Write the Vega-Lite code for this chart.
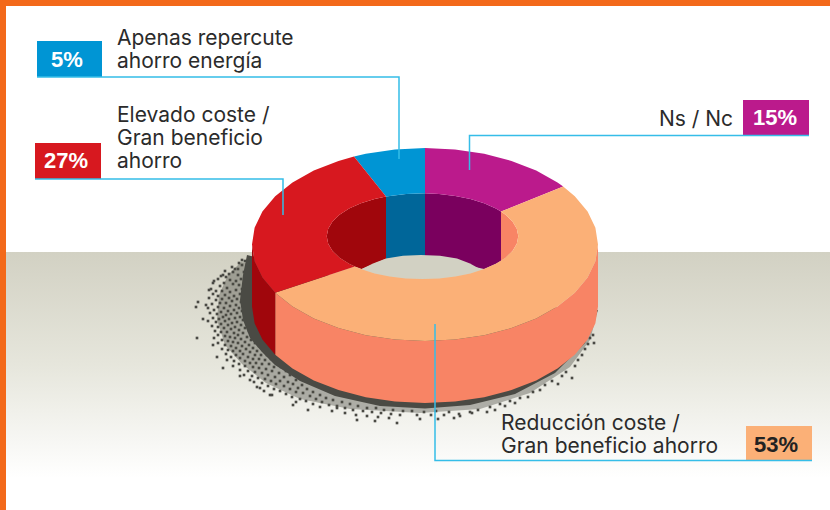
{"$schema":"https://vega.github.io/schema/vega-lite/v6.json","width":830,"height":510,"padding":0,"autosize":{"type":"fit","contains":"padding"},"background":"#ffffff","config":{"view":{"stroke":null}},
"datasets":{
"band":[{"x":6,"x2":830,"y":252,"y2":478}],
"border":[{"x":0,"x2":830,"y":0,"y2":6},{"x":0,"x2":6,"y":0,"y2":510}],
"haze":[{"x":241,"y":262},{"x":228,"y":275},{"x":219,"y":295},{"x":217,"y":320},{"x":225,"y":345},{"x":242,"y":364},{"x":266,"y":383},{"x":300,"y":399},{"x":350,"y":409},{"x":420,"y":413},{"x":480,"y":409},{"x":530,"y":393},{"x":570,"y":367},{"x":590,"y":340},{"x":598,"y":310},{"x":425,"y":300}],
"shadow":[{"p":"shadow","x":247,"y":255},{"p":"shadow","x":243,"y":275},{"p":"shadow","x":240,"y":300},{"p":"shadow","x":243,"y":320},{"p":"shadow","x":250,"y":338},{"p":"shadow","x":262,"y":352},{"p":"shadow","x":275,"y":365},{"p":"shadow","x":300,"y":381},{"p":"shadow","x":335,"y":396},{"p":"shadow","x":380,"y":406},{"p":"shadow","x":425,"y":408.5},{"p":"shadow","x":470,"y":405},{"p":"shadow","x":515,"y":394},{"p":"shadow","x":555,"y":373},{"p":"shadow","x":585,"y":343},{"p":"shadow","x":598,"y":310},{"p":"shadow","x":425,"y":300}],
"specks":[{"x":196,"y":307},{"x":198,"y":302},{"x":203,"y":319},{"x":197,"y":338},{"x":213,"y":283},{"x":223,"y":275},{"x":242,"y":260},{"x":238,"y":269},{"x":209,"y":290},{"x":208,"y":308},{"x":213,"y":345},{"x":217,"y":357},{"x":223,"y":368},{"x":240,"y":376},{"x":250,"y":380},{"x":260,"y":388},{"x":270,"y":395},{"x":293,"y":405},{"x":308,"y":410},{"x":337,"y":408},{"x":357,"y":420},{"x":397,"y":423},
{"x":239,"y":263},{"x":245,"y":261},{"x":232,"y":267},{"x":242,"y":265},{"x":247,"y":268},{"x":225,"y":271},{"x":235,"y":269},{"x":244,"y":272},{"x":229,"y":274},{"x":221,"y":276},{"x":238,"y":275},{"x":233,"y":272},{"x":218,"y":279},{"x":226,"y":277},{"x":241,"y":279},{"x":236,"y":281},{"x":230,"y":280},{"x":224,"y":283},{"x":214,"y":281},{"x":245,"y":283},{"x":239,"y":285},{"x":220,"y":286},{"x":233,"y":284},{"x":227,"y":288},{"x":211,"y":289},{"x":216,"y":291},{"x":242,"y":289},{"x":236,"y":290},{"x":230,"y":292},{"x":222,"y":291},{"x":246,"y":292},{"x":225,"y":295},{"x":240,"y":294},{"x":234,"y":296},{"x":218,"y":296},{"x":213,"y":294},{"x":229,"y":298},{"x":243,"y":297},{"x":222,"y":299},{"x":237,"y":299},{"x":209,"y":298},{"x":216,"y":300},{"x":232,"y":301},{"x":226,"y":303},{"x":241,"y":302},{"x":220,"y":303},{"x":212,"y":304},{"x":236,"y":305},{"x":230,"y":306},{"x":218,"y":307},{"x":224,"y":308},{"x":244,"y":306},{"x":239,"y":308},{"x":206,"y":305},{"x":214,"y":310},{"x":228,"y":311},{"x":234,"y":310},{"x":221,"y":312},{"x":242,"y":311},{"x":237,"y":313},{"x":217,"y":314},{"x":226,"y":315},{"x":231,"y":314},{"x":210,"y":313},{"x":245,"y":315},{"x":223,"y":317},{"x":240,"y":317},{"x":235,"y":318},{"x":213,"y":318},{"x":219,"y":319},{"x":229,"y":319},{"x":208,"y":321},{"x":243,"y":320},{"x":225,"y":321},{"x":216,"y":322},{"x":237,"y":322},{"x":232,"y":323},{"x":221,"y":324},{"x":247,"y":324},{"x":241,"y":325},{"x":228,"y":325},{"x":212,"y":326},{"x":218,"y":327},{"x":235,"y":327},{"x":224,"y":328},{"x":245,"y":328},{"x":231,"y":329},{"x":239,"y":330},{"x":215,"y":331},{"x":221,"y":332},{"x":227,"y":332},{"x":249,"y":331},{"x":234,"y":333},{"x":243,"y":333},{"x":238,"y":335},{"x":218,"y":335},{"x":225,"y":336},{"x":230,"y":337},{"x":252,"y":335},{"x":247,"y":337},{"x":214,"y":338},{"x":235,"y":338},{"x":222,"y":340},{"x":241,"y":339},{"x":228,"y":341},{"x":251,"y":340},{"x":233,"y":342},{"x":245,"y":342},{"x":238,"y":343},{"x":218,"y":343},{"x":255,"y":343},{"x":225,"y":345},{"x":249,"y":345},{"x":231,"y":346},{"x":242,"y":346},{"x":236,"y":348},{"x":259,"y":346},{"x":253,"y":348},{"x":222,"y":349},{"x":228,"y":350},{"x":246,"y":349},{"x":233,"y":351},{"x":240,"y":351},{"x":257,"y":351},{"x":263,"y":350},{"x":250,"y":352},{"x":226,"y":354},{"x":236,"y":355},{"x":243,"y":354},{"x":255,"y":355},{"x":231,"y":357},{"x":261,"y":355},{"x":248,"y":357},{"x":267,"y":355},{"x":240,"y":358},{"x":253,"y":359},{"x":227,"y":360},{"x":259,"y":359},{"x":234,"y":361},{"x":245,"y":361},{"x":265,"y":360},{"x":271,"y":359},{"x":250,"y":363},{"x":239,"y":364},{"x":256,"y":363},{"x":262,"y":364},{"x":277,"y":363},{"x":269,"y":364},{"x":233,"y":366},{"x":245,"y":366},{"x":253,"y":367},{"x":274,"y":367},{"x":259,"y":368},{"x":281,"y":367},{"x":266,"y":369},{"x":240,"y":370},{"x":248,"y":371},{"x":255,"y":372},{"x":272,"y":371},{"x":286,"y":371},{"x":262,"y":373},{"x":279,"y":373},{"x":244,"y":375},{"x":268,"y":375},{"x":252,"y":376},{"x":275,"y":377},{"x":258,"y":378},{"x":290,"y":375},{"x":284,"y":377},{"x":265,"y":379},{"x":296,"y":380},{"x":271,"y":381},{"x":254,"y":382},{"x":280,"y":381},{"x":288,"y":382},{"x":262,"y":383},{"x":276,"y":384},{"x":293,"y":384},{"x":302,"y":385},{"x":268,"y":386},{"x":284,"y":386},{"x":257,"y":387},{"x":298,"y":388},{"x":274,"y":389},{"x":290,"y":389},{"x":307,"y":389},{"x":280,"y":391},{"x":264,"y":391},{"x":313,"y":392},{"x":296,"y":392},{"x":303,"y":393},{"x":286,"y":394},{"x":272,"y":395},{"x":320,"y":395},{"x":310,"y":396},{"x":292,"y":397},{"x":326,"y":398},{"x":300,"y":399},{"x":316,"y":399},{"x":333,"y":400},{"x":306,"y":401},{"x":322,"y":402},{"x":342,"y":402},{"x":296,"y":402},{"x":313,"y":404},{"x":350,"y":404},{"x":329,"y":405},{"x":337,"y":406},{"x":358,"y":406},{"x":320,"y":407},{"x":345,"y":408},{"x":367,"y":408},{"x":376,"y":408},{"x":353,"y":410},{"x":332,"y":411},{"x":363,"y":411},{"x":384,"y":410},{"x":393,"y":410},{"x":372,"y":412},{"x":403,"y":411},{"x":412,"y":411},{"x":345,"y":413},{"x":381,"y":413},{"x":356,"y":415},{"x":391,"y":414},{"x":424,"y":412},{"x":436,"y":411},{"x":400,"y":415},{"x":367,"y":416},{"x":449,"y":412},{"x":417,"y":415},{"x":378,"y":417},{"x":431,"y":415},{"x":444,"y":415},{"x":459,"y":414},{"x":389,"y":418},{"x":472,"y":413},{"x":420,"y":419},{"x":438,"y":419},{"x":454,"y":418},{"x":375,"y":421},
{"x":478,"y":410},{"x":490,"y":407},{"x":500,"y":404},{"x":487,"y":412},{"x":510,"y":401},{"x":520,"y":398},{"x":528,"y":397},{"x":515,"y":403},{"x":533,"y":392},{"x":540,"y":390},{"x":545,"y":385},{"x":552,"y":381},{"x":558,"y":384},{"x":562,"y":376},{"x":566,"y":372},{"x":572,"y":378},{"x":575,"y":366},{"x":578,"y":360},{"x":582,"y":355},{"x":585,"y":349},{"x":588,"y":344},{"x":590,"y":338},{"x":593,"y":335},{"x":594,"y":343},{"x":470,"y":412},{"x":460,"y":416},{"x":495,"y":410},{"x":505,"y":406}],
"lower":[
{"p":"orange side","x":598,"y":244.5},{"p":"orange side","x":595.4,"y":261.3},{"p":"orange side","x":587.6,"y":277.5},{"p":"orange side","x":574.8,"y":292.75},{"p":"orange side","x":557.5,"y":306.5},{"p":"orange side","x":536.2,"y":318.4},{"p":"orange side","x":511.5,"y":328.1},{"p":"orange side","x":484.2,"y":335.2},{"p":"orange side","x":455,"y":339.5},{"p":"orange side","x":425,"y":341},{"p":"orange side","x":395,"y":339.5},{"p":"orange side","x":365.8,"y":335.2},{"p":"orange side","x":338.5,"y":328.1},{"p":"orange side","x":313.8,"y":318.4},{"p":"orange side","x":292.5,"y":306.5},{"p":"orange side","x":275.2,"y":292.75},{"p":"orange side","x":275.2,"y":354.75},{"p":"orange side","x":292.5,"y":368.5},{"p":"orange side","x":313.8,"y":380.4},{"p":"orange side","x":338.5,"y":390.1},{"p":"orange side","x":365.8,"y":397.2},{"p":"orange side","x":395,"y":401.5},{"p":"orange side","x":425,"y":403},{"p":"orange side","x":455,"y":401.5},{"p":"orange side","x":484.2,"y":397.2},{"p":"orange side","x":511.5,"y":390.1},{"p":"orange side","x":536.2,"y":380.4},{"p":"orange side","x":557.5,"y":368.5},{"p":"orange side","x":574.8,"y":354.75},{"p":"orange side","x":587.6,"y":339.5},{"p":"orange side","x":595.4,"y":323.3},{"p":"orange side","x":598,"y":306.5},
{"p":"red side","x":275.2,"y":292.75},{"p":"red side","x":262.4,"y":277.5},{"p":"red side","x":254.6,"y":261.3},{"p":"red side","x":252,"y":244.5},{"p":"red side","x":252,"y":306.5},{"p":"red side","x":254.6,"y":323.3},{"p":"red side","x":262.4,"y":339.5},{"p":"red side","x":275.2,"y":354.75},
{"p":"red wall","x":354.8,"y":266.5},{"p":"red wall","x":349.1,"y":263.8},{"p":"red wall","x":339.5,"y":257.65},{"p":"red wall","x":332.5,"y":250.9},{"p":"red wall","x":328.2,"y":243.65},{"p":"red wall","x":326.7,"y":236.2},{"p":"red wall","x":328.2,"y":228.75},{"p":"red wall","x":332.5,"y":221.5},{"p":"red wall","x":339.5,"y":214.75},{"p":"red wall","x":349.1,"y":208.6},{"p":"red wall","x":360.9,"y":203.3},{"p":"red wall","x":374.6,"y":199},{"p":"red wall","x":386,"y":196.5},{"p":"red wall","x":386,"y":258.8},{"p":"red wall","x":361.7,"y":269},
{"p":"blue wall","x":386,"y":196.5},{"p":"blue wall","x":406,"y":194},{"p":"blue wall","x":425,"y":193.3},{"p":"blue wall","x":425,"y":256},{"p":"blue wall","x":386,"y":259},
{"p":"purple wall","x":425,"y":193.3},{"p":"purple wall","x":439.1,"y":194},{"p":"purple wall","x":455.3,"y":195.9},{"p":"purple wall","x":470.4,"y":199},{"p":"purple wall","x":484.1,"y":203.3},{"p":"purple wall","x":495.9,"y":208.6},{"p":"purple wall","x":501,"y":211.6},{"p":"purple wall","x":501,"y":260.8},{"p":"purple wall","x":495.9,"y":263.8},{"p":"purple wall","x":484.1,"y":269.1},{"p":"purple wall","x":425,"y":256},
{"p":"orange wall","x":501,"y":211.6},{"p":"orange wall","x":505.5,"y":214.75},{"p":"orange wall","x":512.5,"y":221.5},{"p":"orange wall","x":516.8,"y":228.75},{"p":"orange wall","x":518.3,"y":236.2},{"p":"orange wall","x":516.8,"y":243.65},{"p":"orange wall","x":512.5,"y":250.9},{"p":"orange wall","x":505.5,"y":257.65},{"p":"orange wall","x":501,"y":260.8}],
"upper":[
{"p":"floor","x":361.7,"y":269},{"p":"floor","x":373,"y":263.5},{"p":"floor","x":386,"y":258.6},{"p":"floor","x":403,"y":255.8},{"p":"floor","x":421,"y":255},{"p":"floor","x":440,"y":255.8},{"p":"floor","x":457,"y":258.6},{"p":"floor","x":470,"y":263.5},{"p":"floor","x":481.7,"y":270},{"p":"floor","x":470.4,"y":273.4},{"p":"floor","x":455.3,"y":276.5},{"p":"floor","x":439.1,"y":278.4},{"p":"floor","x":422.5,"y":279.1},{"p":"floor","x":405.9,"y":278.4},{"p":"floor","x":389.7,"y":276.5},{"p":"floor","x":374.6,"y":273.4},
{"p":"blue top","x":354,"y":156.5},{"p":"blue top","x":365.8,"y":153.8},{"p":"blue top","x":395,"y":149.5},{"p":"blue top","x":425,"y":148},{"p":"blue top","x":425,"y":193.3},{"p":"blue top","x":406,"y":194},{"p":"blue top","x":386,"y":196.5},
{"p":"purple top","x":425,"y":148},{"p":"purple top","x":455,"y":149.5},{"p":"purple top","x":484.2,"y":153.8},{"p":"purple top","x":511.5,"y":160.9},{"p":"purple top","x":536.2,"y":170.6},{"p":"purple top","x":557.5,"y":182.5},{"p":"purple top","x":563.2,"y":186.5},{"p":"purple top","x":501,"y":211.6},{"p":"purple top","x":495.9,"y":208.6},{"p":"purple top","x":484.1,"y":203.3},{"p":"purple top","x":470.4,"y":199},{"p":"purple top","x":455.3,"y":195.9},{"p":"purple top","x":439.1,"y":194},{"p":"purple top","x":425,"y":193.3},
{"p":"orange top","x":563.2,"y":186.5},{"p":"orange top","x":574.8,"y":196.25},{"p":"orange top","x":587.6,"y":211.5},{"p":"orange top","x":595.4,"y":227.7},{"p":"orange top","x":598,"y":244.5},{"p":"orange top","x":595.4,"y":261.3},{"p":"orange top","x":587.6,"y":277.5},{"p":"orange top","x":574.8,"y":292.75},{"p":"orange top","x":557.5,"y":306.5},{"p":"orange top","x":536.2,"y":318.4},{"p":"orange top","x":511.5,"y":328.1},{"p":"orange top","x":484.2,"y":335.2},{"p":"orange top","x":455,"y":339.5},{"p":"orange top","x":425,"y":341},{"p":"orange top","x":395,"y":339.5},{"p":"orange top","x":365.8,"y":335.2},{"p":"orange top","x":338.5,"y":328.1},{"p":"orange top","x":313.8,"y":318.4},{"p":"orange top","x":292.5,"y":306.5},{"p":"orange top","x":275.2,"y":292.75},{"p":"orange top","x":354.8,"y":266.5},{"p":"orange top","x":360.9,"y":269.1},{"p":"orange top","x":374.6,"y":273.4},{"p":"orange top","x":389.7,"y":276.5},{"p":"orange top","x":405.9,"y":278.4},{"p":"orange top","x":422.5,"y":279.1},{"p":"orange top","x":439.1,"y":278.4},{"p":"orange top","x":455.3,"y":276.5},{"p":"orange top","x":470.4,"y":273.4},{"p":"orange top","x":484.1,"y":269.1},{"p":"orange top","x":495.9,"y":263.8},{"p":"orange top","x":505.5,"y":257.65},{"p":"orange top","x":512.5,"y":250.9},{"p":"orange top","x":516.8,"y":243.65},{"p":"orange top","x":518.3,"y":236.2},{"p":"orange top","x":516.8,"y":228.75},{"p":"orange top","x":512.5,"y":221.5},{"p":"orange top","x":505.5,"y":214.75},{"p":"orange top","x":501,"y":211.6},
{"p":"red top","x":275.2,"y":292.75},{"p":"red top","x":262.4,"y":277.5},{"p":"red top","x":254.6,"y":261.3},{"p":"red top","x":252,"y":244.5},{"p":"red top","x":254.6,"y":227.7},{"p":"red top","x":262.4,"y":211.5},{"p":"red top","x":275.2,"y":196.25},{"p":"red top","x":292.5,"y":182.5},{"p":"red top","x":313.8,"y":170.6},{"p":"red top","x":338.5,"y":160.9},{"p":"red top","x":354,"y":156.5},{"p":"red top","x":386,"y":196.5},{"p":"red top","x":374.6,"y":199},{"p":"red top","x":360.9,"y":203.3},{"p":"red top","x":349.1,"y":208.6},{"p":"red top","x":339.5,"y":214.75},{"p":"red top","x":332.5,"y":221.5},{"p":"red top","x":328.2,"y":228.75},{"p":"red top","x":326.7,"y":236.2},{"p":"red top","x":328.2,"y":243.65},{"p":"red top","x":332.5,"y":250.9},{"p":"red top","x":339.5,"y":257.65},{"p":"red top","x":349.1,"y":263.8},{"p":"red top","x":354.8,"y":266.5}],
"leaders":[{"s":"a","x":37,"y":77},{"s":"a","x":399,"y":77},{"s":"a","x":399,"y":159},{"s":"b","x":35,"y":179},{"s":"b","x":283,"y":179},{"s":"b","x":283,"y":215},{"s":"c","x":809,"y":135.5},{"s":"c","x":469.5,"y":135.5},{"s":"c","x":469.5,"y":170},{"s":"d","x":812,"y":460.5},{"s":"d","x":435,"y":460.5},{"s":"d","x":435,"y":324}],
"boxes":[{"p":"blue top","x":37,"x2":102,"y":41,"y2":77},{"p":"red top","x":35,"x2":101,"y":143,"y2":179},{"p":"purple top","x":743,"x2":809,"y":100,"y2":136},{"p":"orange top","x":746,"x2":812,"y":426,"y2":461}],
"labels":[{"t":"Apenas repercute","x":117,"y":45},{"t":"ahorro energía","x":117,"y":68},{"t":"Elevado coste /","x":117,"y":122},{"t":"Gran beneficio","x":117,"y":145},{"t":"ahorro","x":117,"y":168},{"t":"Reducción coste /","x":501,"y":430},{"t":"Gran beneficio ahorro","x":501,"y":453}],
"labelsRight":[{"t":"Ns / Nc","x":733,"y":126}],
"pctLight":[{"t":"5%","x":67,"y":67},{"t":"27%","x":66,"y":168},{"t":"15%","x":775,"y":125}],
"pctDark":[{"t":"53%","x":776,"y":452}]
},
"encoding":{"x":{"field":"x","type":"quantitative","scale":{"domain":[0,830]},"axis":null},"y":{"field":"y","type":"quantitative","scale":{"domain":[510,0]},"axis":null}},
"layer":[
{"data":{"name":"band"},"mark":{"type":"rect","color":{"gradient":"linear","x1":0,"y1":0,"x2":0,"y2":1,"stops":[{"offset":0,"color":"#d2d1c3"},{"offset":0.5,"color":"#e6e6dc"},{"offset":1,"color":"#ffffff"}]}},"encoding":{"x2":{"field":"x2"},"y2":{"field":"y2"}}},
{"data":{"name":"border"},"mark":{"type":"rect","color":"#f3691a"},"encoding":{"x2":{"field":"x2"},"y2":{"field":"y2"}}},
{"data":{"name":"specks"},"mark":{"type":"point","shape":"square","filled":true,"size":7,"opacity":1,"color":"#4a4a44"}},
{"data":{"name":"haze"},"transform":[{"window":[{"op":"row_number","as":"i"}]}],"mark":{"type":"line","filled":true,"color":"#4a4a44","opacity":0.4,"strokeWidth":0},"encoding":{"order":{"field":"i"}}},
{"data":{"name":"shadow"},"transform":[{"window":[{"op":"row_number","as":"i"}]}],"mark":{"type":"line","filled":true,"color":"#4a4a44"},"encoding":{"order":{"field":"i"}}},
{"data":{"name":"lower"},"transform":[{"window":[{"op":"row_number","as":"i"}]}],"mark":{"type":"line","filled":true},"encoding":{"order":{"field":"i"},"detail":{"field":"p"},"fill":{"field":"p","scale":{"domain":["orange side","red side","red wall","blue wall","purple wall","orange wall","floor","blue top","purple top","orange top","red top"],"range":["#f88465","#a0060c","#a0060c","#006699","#7a005e","#f88465","#d2d1c3","#0095d4","#bb1a8c","#fbb077","#d7181f"]},"legend":null}}},
{"data":{"name":"upper"},"transform":[{"window":[{"op":"row_number","as":"i"}]}],"mark":{"type":"line","filled":true},"encoding":{"order":{"field":"i"},"detail":{"field":"p"},"fill":{"field":"p","scale":{"domain":["orange side","red side","red wall","blue wall","purple wall","orange wall","floor","blue top","purple top","orange top","red top"],"range":["#f88465","#a0060c","#a0060c","#006699","#7a005e","#f88465","#d2d1c3","#0095d4","#bb1a8c","#fbb077","#d7181f"]},"legend":null}}},
{"data":{"name":"boxes"},"mark":{"type":"rect"},"encoding":{"x2":{"field":"x2"},"y2":{"field":"y2"},"fill":{"field":"p","scale":{"domain":["orange side","red side","red wall","blue wall","purple wall","orange wall","floor","blue top","purple top","orange top","red top"],"range":["#f88465","#a0060c","#a0060c","#006699","#7a005e","#f88465","#d2d1c3","#0095d4","#bb1a8c","#fbb077","#d7181f"]},"legend":null}}},
{"data":{"name":"leaders"},"transform":[{"window":[{"op":"row_number","as":"i"}]}],"mark":{"type":"line","color":"#35bde8","strokeWidth":1.5},"encoding":{"order":{"field":"i"},"detail":{"field":"s"}}},
{"data":{"name":"labels"},"mark":{"type":"text","align":"left","baseline":"alphabetic","font":"Inter","fontSize":21,"color":"#2b2b2b"},"encoding":{"text":{"field":"t"}}},
{"data":{"name":"labelsRight"},"mark":{"type":"text","align":"right","baseline":"alphabetic","font":"Inter","fontSize":21,"color":"#2b2b2b"},"encoding":{"text":{"field":"t"}}},
{"data":{"name":"pctLight"},"mark":{"type":"text","align":"center","baseline":"alphabetic","font":"Liberation Sans","fontWeight":"bold","fontSize":22,"color":"#ffffff"},"encoding":{"text":{"field":"t"}}},
{"data":{"name":"pctDark"},"mark":{"type":"text","align":"center","baseline":"alphabetic","font":"Liberation Sans","fontWeight":"bold","fontSize":22,"color":"#222222"},"encoding":{"text":{"field":"t"}}}
]}
